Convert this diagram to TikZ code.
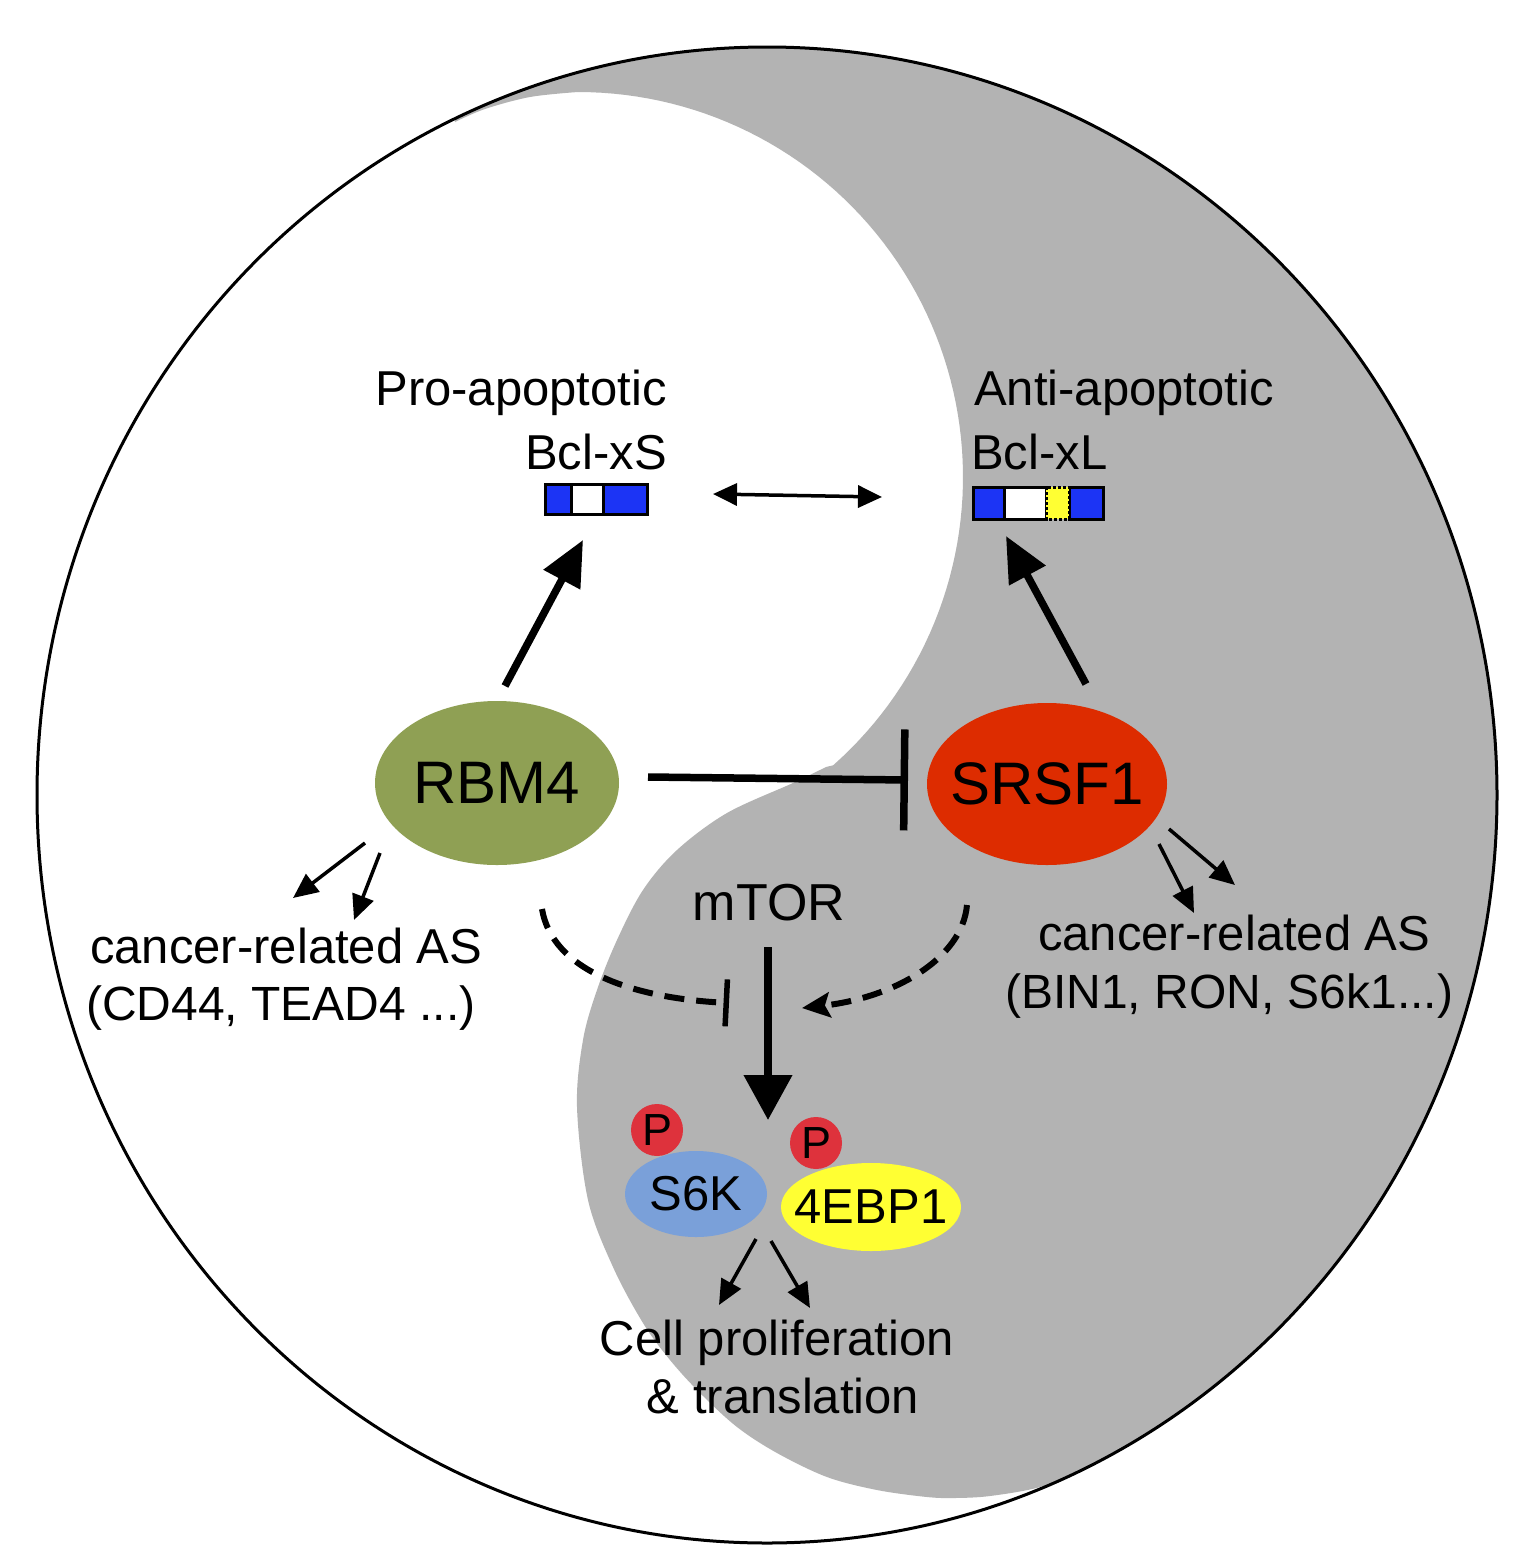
\documentclass[tikz,border=0pt]{standalone}
\usepackage{fontspec}
\setmainfont{Liberation Sans}
\usetikzlibrary{arrows.meta,shapes.geometric}
\definecolor{bggray}{RGB}{179,179,179}
\definecolor{olivegreen}{RGB}{143,160,84}
\definecolor{srsfred}{RGB}{221,44,0}
\definecolor{pred}{RGB}{222,50,60}
\definecolor{sixkblue}{RGB}{122,160,217}
\definecolor{ebpyellow}{RGB}{255,255,51}
\definecolor{exonblue}{RGB}{28,52,245}
\begin{document}
\begin{tikzpicture}[x=1pt,y=-1pt,
  txt/.style={inner sep=0pt, font=\fontsize{49pt}{57pt}\selectfont},
  txtb/.style={inner sep=0pt, font=\fontsize{48pt}{57pt}\selectfont},
  blob/.style={ellipse, inner sep=-15pt},
  pcircle/.style={circle, fill=pred, minimum size=52pt, inner sep=0pt, font=\fontsize{45pt}{45pt}\selectfont},
  bigarrow/.style={line width=7.5pt, -{Triangle[length=45pt,width=40pt]}},
  smallarrow/.style={line width=3.5pt, -{Triangle[length=25pt,width=22pt]}},
  dasharrow/.style={line width=6pt, dash pattern=on 20pt off 12pt, -{Stealth[length=28pt,width=25pt,inset=5pt]}},
  dashbar/.style={line width=6pt, dash pattern=on 20pt off 12pt, -{Bar[width=47pt,line width=5.5pt]}},
  exon/.style={line width=3pt, draw=black}
]
\useasboundingbox (0,0) rectangle (1532,1566);
\fill[white] (0,0) rectangle (1532,1566);

% yin-yang background
\begin{scope}
  \clip (767,795) ellipse [x radius=730, y radius=748];
  \fill[bggray] (420,-100) -- (1700,-100) -- (1700,1700) -- (1200,1700) -- (1089,1468)
    -- plot[smooth, tension=0.55] coordinates {(1089,1468) (1040,1487) (990,1496) (955,1498) (927,1497) (877,1490) (827,1477) (777,1453) (737,1427) (700,1393) (670,1360) (643,1323) (613,1267) (588,1200) (577,1107) (583,1040) (597,990) (617,940) (643,890) (677,850) (727,813) (793,783) (826,767)}
    -- plot[domain=48.5:-90, samples=80] ({578+385*cos(\x)},{477+385*sin(\x)})
    -- plot[smooth, tension=0.55] coordinates {(578,92) (530,97) (485,109) (455,122)}
    -- cycle;
\end{scope}
\draw[line width=3pt] (767,795) ellipse [x radius=730, y radius=748];

% Bcl-xS exon box
\draw[exon, fill=exonblue] (545,484) rectangle (571,514);
\draw[exon, fill=white] (571,484) rectangle (603,514);
\draw[exon, fill=exonblue] (603,484) rectangle (647,514);
\node[minimum width=102pt, minimum height=30pt, inner sep=0pt] (bclxs) at (596,499) {};

% Bcl-xL exon box
\draw[exon, fill=exonblue] (973,487) rectangle (1004,519);
\draw[exon, fill=white] (1004,487) rectangle (1046,519);
\draw[exon, fill=exonblue] (1069,487) rectangle (1103,519);
\draw[line width=3pt, dotted, fill=ebpyellow] (1046,487) rectangle (1069,519);
\node[minimum width=130pt, minimum height=32pt, inner sep=0pt] (bclxl) at (1038,503) {};

% labels
\node[txt, anchor=base east] (pro) at (667,405) {Pro-apoptotic};
\node[txt, anchor=base east] (xslab) at (667,469) {Bcl-xS};
\node[txt, anchor=base west] (anti) at (974,405) {Anti-apoptotic};
\node[txt, anchor=base west] (xllab) at (971,469) {Bcl-xL};

% main nodes
\node[blob, fill=olivegreen, minimum width=244pt, minimum height=164pt, font=\fontsize{60pt}{60pt}\selectfont] (rbm4) at (497,783) {RBM4};
\node[blob, fill=srsfred, minimum width=240pt, minimum height=162pt, font=\fontsize{60pt}{60pt}\selectfont] (srsf1) at (1047,784) {SRSF1};
\node[txt, anchor=base, font=\fontsize{52pt}{52pt}\selectfont] (mtor) at (769,920) {mTOR};

\node[txt, anchor=base west] (casl1) at (90,963) {cancer-related AS};
\node[txtb, anchor=base west] (casl2) at (86,1020) {(CD44, TEAD4 ...)};
\node[txt, anchor=base west] (casr1) at (1038,950) {cancer-related AS};
\node[txtb, anchor=base west] (casr2) at (1005,1008) {(BIN1, RON, S6k1...)};

\node[blob, fill=sixkblue, minimum width=142pt, minimum height=86pt, font=\fontsize{49pt}{49pt}\selectfont] (s6k) at (696,1194) {S6K};
\node[blob, fill=ebpyellow, minimum width=180pt, minimum height=88pt, font=\fontsize{49pt}{49pt}\selectfont] (ebp) at (871,1207) {4EBP1};
\node[pcircle] (p1) at (657,1130) {P};
\node[pcircle] (p2) at (816,1143) {P};

\node[txt, anchor=base] (cellp) at (777,1355) {Cell proliferation};
\node[txt, anchor=base] (transl) at (783,1413) {\& translation};

% connectors
\draw[bigarrow] ([shift={(8,-97)}]rbm4.center) -- ([shift={(-13,41)}]bclxs.center);
\draw[bigarrow] ([shift={(39,-100)}]srsf1.center) -- ([shift={(-32,33)}]bclxl.center);
\draw[line width=3.5pt, {Triangle[length=24pt,width=22pt]}-{Triangle[length=24pt,width=22pt]}]
  ([shift={(117,-5)}]bclxs.center) -- ([shift={(-156,-6)}]bclxl.center);
\draw[line width=7.5pt, -{Bar[width=101pt,line width=7.5pt]}]
  ([shift={(151,-6)}]rbm4.center) -- ([shift={(-139,-4)}]srsf1.center);

\draw[smallarrow] ([shift={(-132,60)}]rbm4.center) -- ([shift={(203,-65)}]casl1.base west);
\draw[smallarrow] ([shift={(-117,70)}]rbm4.center) -- ([shift={(264,-43)}]casl1.base west);
\draw[smallarrow] ([shift={(112,60)}]srsf1.center) -- ([shift={(156,-37)}]casr1.base west);
\draw[smallarrow] ([shift={(122,45)}]srsf1.center) -- ([shift={(197,-65)}]casr1.base west);

\draw[bigarrow, -{Triangle[length=45pt,width=47pt]}] ([shift={(-1,27)}]mtor.base) -- ([shift={(72,-74)}]s6k.center);

\draw[dashbar] ([shift={(45,126)}]rbm4.center) .. controls +(10,60) and +(-100,-5) .. ([shift={(-40,83)}]mtor.base);
\draw[dasharrow] ([shift={(-80,121)}]srsf1.center) .. controls +(-5,55) and +(90,-10) .. ([shift={(33,88)}]mtor.base);

\draw[smallarrow] ([shift={(60,45)}]s6k.center) -- ([shift={(-58,-50)}]cellp.base);
\draw[smallarrow] ([shift={(75,47)}]s6k.center) -- ([shift={(33,-47)}]cellp.base);
\end{tikzpicture}
\end{document}
